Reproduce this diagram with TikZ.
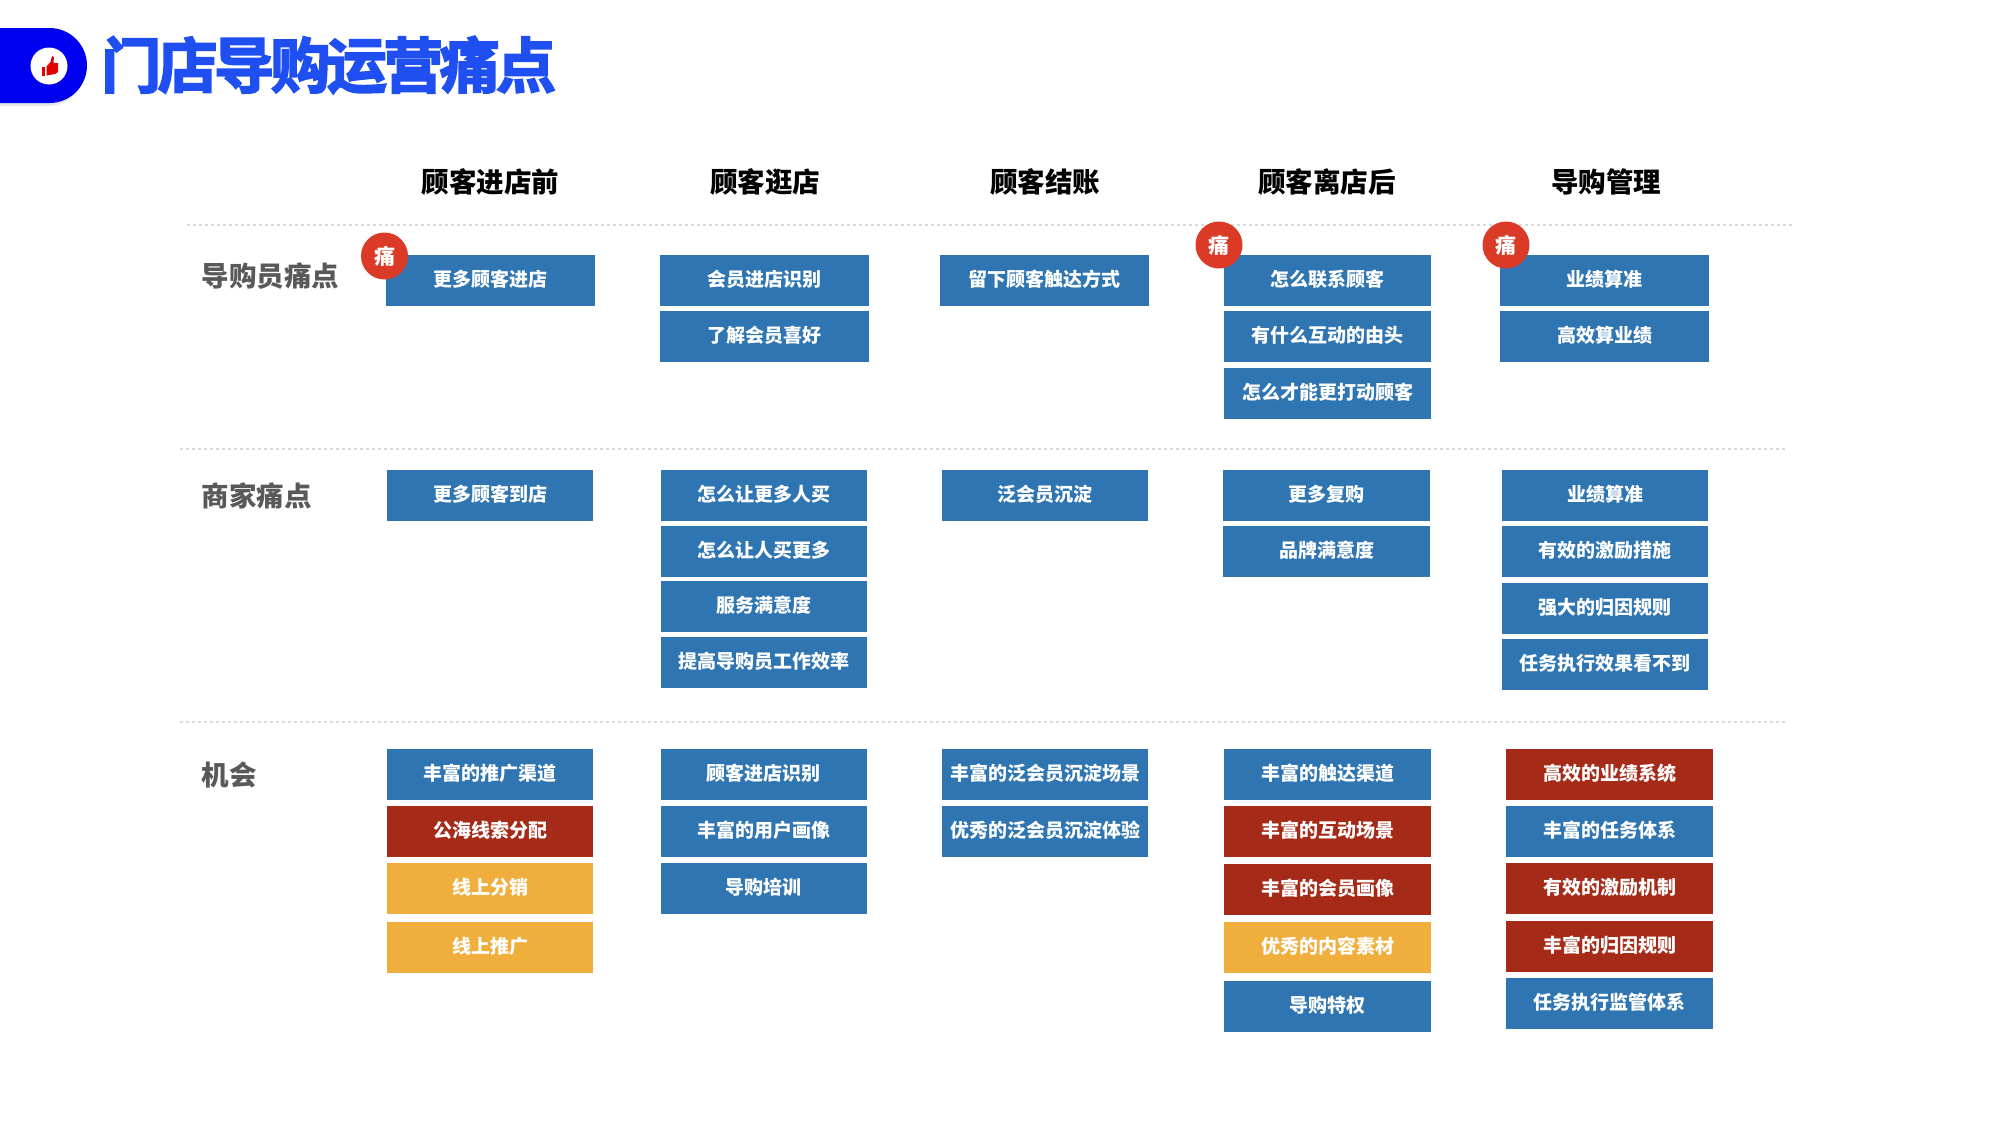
\documentclass[tikz,border=0pt]{standalone}
\usepackage{fontspec}
\usetikzlibrary{shadows}
\setmainfont{Noto Sans CJK SC}
\newfontfamily\titlefont[LetterSpace=-6,FakeBold=3]{Noto Sans CJK SC Bold}
\definecolor{tabblue}{HTML}{0000F0}
\definecolor{titleblue}{HTML}{1F4FF0}
\definecolor{cellblue}{HTML}{2E75B2}
\definecolor{cellred}{HTML}{A52A17}
\definecolor{cellyellow}{HTML}{F0AE3C}
\definecolor{badgered}{HTML}{DA3A26}
\definecolor{labelgray}{HTML}{595959}
\tikzset{
  cellbox/.style={minimum width=206pt,minimum height=51pt,inner sep=0pt,text height=16pt,text depth=3.5pt,text=white,font=\fontsize{19}{19}\selectfont\bfseries},
  bluebox/.style={cellbox,fill=cellblue},
  redbox/.style={cellbox,fill=cellred},
  yellowbox/.style={cellbox,fill=cellyellow},
  widebox/.style={minimum width=209pt},
  midbox/.style={minimum width=207.5pt},
  colhead/.style={inner sep=0pt,font=\fontsize{27.5}{27.5}\selectfont\bfseries},
  rowhead/.style={inner sep=0pt,anchor=west,text=labelgray,font=\fontsize{27.5}{27.5}\selectfont\bfseries},
  badge/.style={circle,fill=badgered,minimum size=47pt,inner sep=0pt,text=white,font=\fontsize{21}{21}\selectfont\bfseries},
  rowline/.style={draw=black!15,line width=1.5pt,dash pattern=on 3pt off 3pt}
}
\begin{document}
\begin{tikzpicture}[x=1pt,y=-1pt]
  \useasboundingbox (0,0) rectangle (2000,1125);

  \fill[tabblue,drop shadow={opacity=0.2,shadow xshift=-2pt,shadow yshift=-3pt}] (0,28) -- (49.5,28) arc (-90:90:37.5) -- (0,103) -- cycle;
  \node[circle,fill=white,minimum size=37pt,inner sep=0pt] (thumbdisc) at (49,66) {};
  \fill[red!90!black] (42,67) -- (45,67) -- (45,76) -- (42,76) -- cycle;
  \fill[red!90!black] (46.5,66.5) -- (50.5,62) -- (52,56) -- (54,57) -- (53.5,63) -- (58,63) -- (58,72) -- (55,74) -- (46.5,75.5) -- cycle;
  \node[inner sep=0pt,anchor=west,text=titleblue,font=\fontsize{60}{60}\titlefont] (title) at (101,65) {门店导购运营痛点};

  \node[colhead] (heada) at (490.5,182) {顾客进店前};
  \node[colhead] (headb) at (765,182) {顾客逛店};
  \node[colhead] (headc) at (1045,182) {顾客结账};
  \node[colhead] (headd) at (1327,182) {顾客离店后};
  \node[colhead] (heade) at (1606,182) {导购管理};

  \draw[rowline] (187,225) -- (1792,225);
  \draw[rowline] (180,449) -- (1786,449);
  \draw[rowline] (180,722) -- (1786,722);

  \node[rowhead] (rowa) at (201.5,276.5) {导购员痛点};
  \node[rowhead] (rowb) at (201.5,496) {商家痛点};
  \node[rowhead] (rowc) at (201.5,774.5) {机会};

  \node[bluebox,widebox] (aa) at (490,280) {更多顾客进店};
  \node[bluebox,widebox] (ba) at (764,280) {会员进店识别};
  \node[bluebox,widebox] (bb) at (764,336.5) {了解会员喜好};
  \node[bluebox,widebox] (ca) at (1044.5,280) {留下顾客触达方式};
  \node[bluebox,midbox] (da) at (1327.5,280) {怎么联系顾客};
  \node[bluebox,midbox] (db) at (1327.5,336.5) {有什么互动的由头};
  \node[bluebox,midbox] (dc) at (1327.5,393) {怎么才能更打动顾客};
  \node[bluebox,widebox] (ea) at (1604.5,280) {业绩算准};
  \node[bluebox,widebox] (eb) at (1604.5,336.5) {高效算业绩};

  \node[badge] (pa) at (384.5,256) {痛};
  \node[badge] (pb) at (1219,245) {痛};
  \node[badge] (pc) at (1506,245) {痛};

  \node[bluebox] (fa) at (490,495) {更多顾客到店};
  \node[bluebox] (ga) at (763.5,495) {怎么让更多人买};
  \node[bluebox] (gb) at (763.5,551) {怎么让人买更多};
  \node[bluebox] (gc) at (763.5,606.5) {服务满意度};
  \node[bluebox] (gd) at (763.5,662.5) {提高导购员工作效率};
  \node[bluebox] (ha) at (1045,495) {泛会员沉淀};
  \node[bluebox,midbox] (ia) at (1326.5,495) {更多复购};
  \node[bluebox,midbox] (ib) at (1326.5,551) {品牌满意度};
  \node[bluebox] (ja) at (1605,495) {业绩算准};
  \node[bluebox] (jb) at (1605,551) {有效的激励措施};
  \node[bluebox] (jc) at (1605,608) {强大的归因规则};
  \node[bluebox] (jd) at (1605,664.5) {任务执行效果看不到};

  \node[bluebox] (ka) at (490,774) {丰富的推广渠道};
  \node[redbox] (kb) at (490,831) {公海线索分配};
  \node[yellowbox] (kc) at (490,888.5) {线上分销};
  \node[yellowbox] (kd) at (490,947) {线上推广};
  \node[bluebox] (la) at (763.5,774) {顾客进店识别};
  \node[bluebox] (lb) at (763.5,831) {丰富的用户画像};
  \node[bluebox] (lc) at (763.5,888.5) {导购培训};
  \node[bluebox] (ma) at (1045,774) {丰富的泛会员沉淀场景};
  \node[bluebox] (mb) at (1045,831) {优秀的泛会员沉淀体验};
  \node[bluebox,midbox] (na) at (1327.5,774) {丰富的触达渠道};
  \node[redbox,midbox] (nb) at (1327.5,831) {丰富的互动场景};
  \node[redbox,midbox] (nc) at (1327.5,889) {丰富的会员画像};
  \node[yellowbox,midbox] (nd) at (1327.5,947.5) {优秀的内容素材};
  \node[bluebox,midbox] (ne) at (1327.5,1006.5) {导购特权};
  \node[redbox,midbox] (oa) at (1609.5,774) {高效的业绩系统};
  \node[bluebox,midbox] (ob) at (1609.5,831) {丰富的任务体系};
  \node[redbox,midbox] (oc) at (1609.5,888.5) {有效的激励机制};
  \node[redbox,midbox] (od) at (1609.5,946) {丰富的归因规则};
  \node[bluebox,midbox] (oe) at (1609.5,1003.5) {任务执行监管体系};
\end{tikzpicture}
\end{document}
